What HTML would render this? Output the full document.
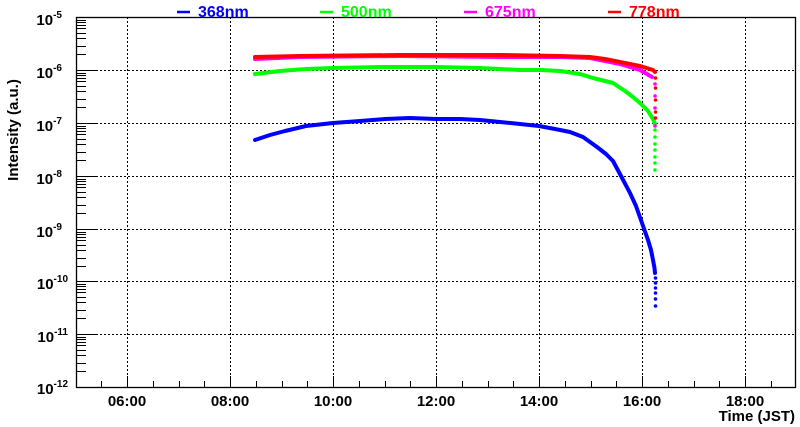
<!DOCTYPE html>
<html><head><meta charset="utf-8"><style>
html,body{margin:0;padding:0;background:#fff}
svg{display:block;font-family:"Liberation Sans",Arial,sans-serif;font-weight:bold}
</style></head><body>
<svg width="800" height="427" viewBox="0 0 800 427">
<rect width="800" height="427" fill="#fff"/>
<g stroke="#000" stroke-width="1" stroke-dasharray="2,2">
<line x1="127.5" y1="17" x2="127.5" y2="387"/>
<line x1="230.5" y1="17" x2="230.5" y2="387"/>
<line x1="333.5" y1="17" x2="333.5" y2="387"/>
<line x1="436.5" y1="17" x2="436.5" y2="387"/>
<line x1="539.5" y1="17" x2="539.5" y2="387"/>
<line x1="642.5" y1="17" x2="642.5" y2="387"/>
<line x1="745.5" y1="17" x2="745.5" y2="387"/>
<line x1="76" y1="70.5" x2="795" y2="70.5"/>
<line x1="76" y1="123.5" x2="795" y2="123.5"/>
<line x1="76" y1="176.5" x2="795" y2="176.5"/>
<line x1="76" y1="229.5" x2="795" y2="229.5"/>
<line x1="76" y1="281.5" x2="795" y2="281.5"/>
<line x1="76" y1="334.5" x2="795" y2="334.5"/>
</g>
<rect x="76.5" y="17.5" width="719" height="370" fill="none" stroke="#000" stroke-width="1.3"/>
<g fill="none" stroke-width="4" stroke-linejoin="round" stroke-linecap="round">
<polyline stroke="#0000ff" points="255,140 270,135 285,131 306,126 333,123 360,121 385,119 410,118 436,119 460,119 480,120 500,122 520,124 539,126 555,129 570,132 583,137 597,147 606,154 613,161 621,176 630,193 636,206 642,223 648,240 651,250 653,260 654.5,268 655,273"/>
<polyline stroke="#00ff00" points="255,74 280,71 306,69 333,68 380,67 436,67 480,68 520,70 540,70 560,71 580,74 593,78 613,83 625,91 633,97 640,103 648,111 653,119 655,124"/>
<polyline stroke="#ff00ff" points="255,59 300,57 400,56 500,57 560,57 590,58 605,61 620,64 640,70 652,77"/>
<polyline stroke="#ff0000" points="255,57 300,56 400,55 500,55 560,56 590,57 605,59 620,62 640,66 653,70 655,72"/>
</g>
<g fill="#0000ff"><circle cx="655.5" cy="278" r="1.8"/><circle cx="655.5" cy="283" r="1.8"/><circle cx="655.5" cy="288" r="1.8"/><circle cx="655.5" cy="293" r="1.8"/><circle cx="655.5" cy="299" r="1.8"/><circle cx="655.5" cy="306" r="1.8"/></g>
<g fill="#00ff00"><circle cx="655" cy="130" r="1.8"/><circle cx="655" cy="137" r="1.8"/><circle cx="655" cy="144" r="1.8"/><circle cx="655" cy="150" r="1.8"/><circle cx="655" cy="157" r="1.8"/><circle cx="655" cy="163" r="1.8"/><circle cx="655" cy="170" r="1.8"/></g>
<g fill="#ff00ff"><circle cx="655" cy="84" r="1.8"/><circle cx="655" cy="96" r="1.8"/><circle cx="655" cy="108" r="1.8"/><circle cx="655" cy="126" r="1.8"/></g>
<g fill="#ff0000"><circle cx="655.5" cy="78" r="1.8"/><circle cx="655.5" cy="88" r="1.8"/><circle cx="655.5" cy="100" r="1.8"/><circle cx="655.5" cy="112" r="1.8"/><circle cx="655.5" cy="118" r="1.8"/></g>
<g font-size="15" text-anchor="end" fill="#000">
<text x="62" y="25">10<tspan font-size="10" dy="-7">-5</tspan></text>
<text x="62" y="78">10<tspan font-size="10" dy="-7">-6</tspan></text>
<text x="62" y="131">10<tspan font-size="10" dy="-7">-7</tspan></text>
<text x="62" y="184">10<tspan font-size="10" dy="-7">-8</tspan></text>
<text x="62" y="237">10<tspan font-size="10" dy="-7">-9</tspan></text>
<text x="68" y="289">10<tspan font-size="10" dy="-7">-10</tspan></text>
<text x="68" y="342">10<tspan font-size="10" dy="-7">-11</tspan></text>
<text x="68" y="394">10<tspan font-size="10" dy="-7">-12</tspan></text>
</g>
<g font-size="15" text-anchor="middle" fill="#000">
<text x="127" y="406">06:00</text><text x="230" y="406">08:00</text><text x="333" y="406">10:00</text>
<text x="436" y="406">12:00</text><text x="539" y="406">14:00</text><text x="642" y="406">16:00</text><text x="745" y="406">18:00</text>
</g>
<text x="795" y="421" font-size="15" text-anchor="end">Time (JST)</text>
<text transform="translate(18,130) rotate(-90)" font-size="15" text-anchor="middle">Intensity (a.u.)</text>
<g font-size="16" stroke-width="2.5">
<line x1="177" y1="12" x2="190" y2="12" stroke="#0000ff"/><text x="198" y="17" fill="#0000ff">368nm</text>
<line x1="320" y1="12" x2="333" y2="12" stroke="#00ff00"/><text x="341" y="17" fill="#00ff00">500nm</text>
<line x1="464" y1="12" x2="477" y2="12" stroke="#ff00ff"/><text x="485" y="17" fill="#ff00ff">675nm</text>
<line x1="608" y1="12" x2="621" y2="12" stroke="#ff0000"/><text x="629" y="17" fill="#ff0000">778nm</text>
</g>
<g stroke="#000" stroke-width="1">
<path d="M76,17.5h22M76,70.5h22M76,123.5h22M76,176.5h22M76,229.5h22M76,281.5h22M76,334.5h22"/>
<path d="
M76,20.5h10M76,22.5h10M76,25.5h10M76,28.5h10M76,33.5h10M76,38.5h10M76,46.5h10M76,54.5h10
M76,73.5h10M76,75.5h10M76,78.5h10M76,81.5h10M76,86.5h10M76,91.5h10M76,99.5h10M76,107.5h10
M76,126.5h10M76,128.5h10M76,131.5h10M76,134.5h10M76,139.5h10M76,144.5h10M76,152.5h10M76,160.5h10
M76,179.5h10M76,181.5h10M76,184.5h10M76,187.5h10M76,192.5h10M76,197.5h10M76,205.5h10M76,213.5h10
M76,232.5h10M76,234.5h10M76,237.5h10M76,240.5h10M76,245.5h10M76,250.5h10M76,258.5h10M76,266.5h10
M76,284.5h10M76,286.5h10M76,289.5h10M76,292.5h10M76,297.5h10M76,302.5h10M76,310.5h10M76,318.5h10
M76,337.5h10M76,339.5h10M76,342.5h10M76,345.5h10M76,350.5h10M76,355.5h10M76,363.5h10M76,371.5h10"/>
<path d="M127.5,387v-11M230.5,387v-11M333.5,387v-11M436.5,387v-11M539.5,387v-11M642.5,387v-11M745.5,387v-11
M101.5,387v-6M153.5,387v-6M179.5,387v-6M204.5,387v-6M256.5,387v-6M282.5,387v-6M307.5,387v-6M359.5,387v-6M385.5,387v-6M410.5,387v-6M462.5,387v-6M488.5,387v-6M513.5,387v-6M565.5,387v-6M591.5,387v-6M616.5,387v-6M668.5,387v-6M694.5,387v-6M719.5,387v-6M771.5,387v-6"/>
</g>
</svg>
</body></html>
